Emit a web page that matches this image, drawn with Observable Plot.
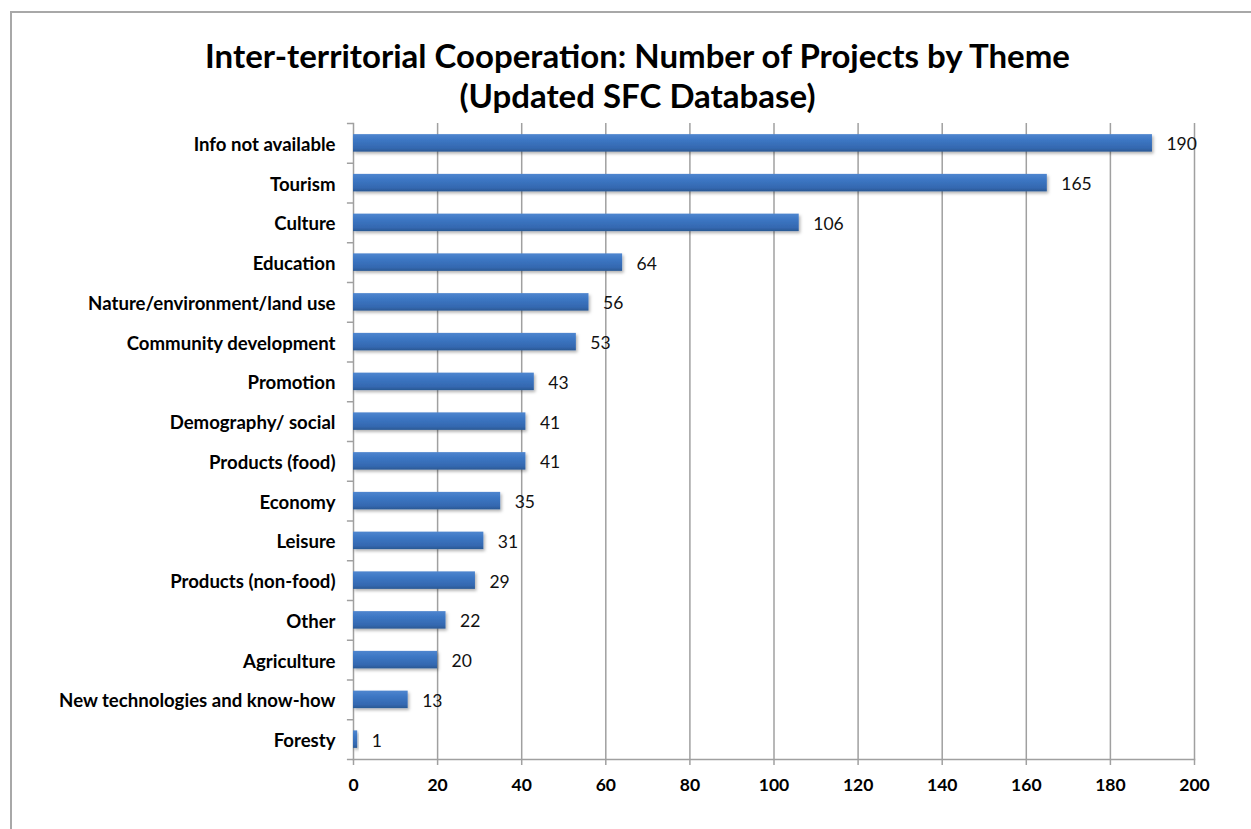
<!DOCTYPE html>
<html><head><meta charset="utf-8">
<script src="https://cdn.jsdelivr.net/npm/d3@7"></script>
<script src="https://cdn.jsdelivr.net/npm/@observablehq/plot@0.6"></script>
<style>
body{margin:0;background:#fff;font-family:Lato,"Open Sans",sans-serif;}
#wrap{position:relative;width:1251px;height:829px;overflow:hidden;}
#border{position:absolute;left:10px;top:11px;right:-10px;bottom:-10px;border-left:2px solid #a8a8a8;border-top:2px solid #a8a8a8;pointer-events:none;}
#title{position:relative;height:115px;box-sizing:border-box;padding-top:35px;padding-left:24px;text-align:center;font-weight:bold;font-size:33px;line-height:40px;color:#000;white-space:nowrap;overflow:visible;}
#chart svg{display:block}
</style></head><body>
<div id="wrap"><div id="border"></div>
<div id="title">Inter-territorial Cooperation: Number of Projects by Theme<br>(Updated SFC Database)</div>
<div id="chart"></div></div>
<script>
const themes = ["Info not available","Tourism","Culture","Education","Nature/environment/land use","Community development","Promotion","Demography/ social","Products (food)","Economy","Leisure","Products (non-food)","Other","Agriculture","New technologies and know-how","Foresty"];
const projects = [190,165,106,64,56,53,43,41,41,35,31,29,22,20,13,1];
const xTicks = [0,20,40,60,80,100,120,140,160,180,200];

const data = themes.map((t,i)=>({theme:t, n:projects[i]}));
const W=1251, H=714, mt=8, mb=70, ml=353, mr=57;
const step=(H-mt-mb)/themes.length;
const grid="#a0a0a0";
const chart = Plot.plot({
  width:W,height:H,marginTop:mt,marginBottom:mb,marginLeft:ml,marginRight:mr,
  style:{fontFamily:"Lato, 'Open Sans', sans-serif", fontSize:"16px", color:"#000", background:"transparent", overflow:"visible"},
  x:{domain:[0,200]},
  y:{domain:themes, paddingInner:0.56, paddingOuter:0.28, round:false},
  marks:[
    Plot.ruleX(xTicks.slice(1), {stroke:grid, strokeWidth:1.5}),
    Plot.frame({anchor:"left", stroke:grid, strokeWidth:1.5}),
    Plot.frame({anchor:"bottom", stroke:grid, strokeWidth:1.5}),
    Plot.ruleY(themes, {y:d=>d, dy:-step/2, x1:-1.45, x2:0, stroke:grid, strokeWidth:1.5}),
    Plot.ruleY(themes.slice(-1), {y:d=>d, dy:step/2, x1:-1.45, x2:0, stroke:grid, strokeWidth:1.5}),
    Plot.barX(data, {x:"n", y:"theme", fill:"url(#barGrad)"}),
    Plot.text(data, {x:"n", y:"theme", text:d=>String(d.n), textAnchor:"start", dx:14, dy:1.5, fontSize:17.5, fill:"#111"}),
    Plot.axisY({tickSize:0, tickPadding:18, fontWeight:"bold", fontSize:18.6, dy:1.5, label:null}),
    Plot.axisX({ticks:xTicks, tickSize:6, tickPadding:13, fontWeight:"bold", fontSize:17.5, stroke:grid, strokeWidth:1.5, label:null})
  ]
});
const svg = d3.select(chart);
svg.insert("defs",":first-child").html(
 `<linearGradient id="barGrad" x1="0" y1="0" x2="0" y2="1">
    <stop offset="0" stop-color="#4f86cf"/>
    <stop offset="0.35" stop-color="#3c76c3"/>
    <stop offset="0.8" stop-color="#3468b0"/>
    <stop offset="1" stop-color="#2a5893"/>
  </linearGradient>
  <filter id="shadow" x="-10%" y="-30%" width="130%" height="180%">
    <feDropShadow dx="1.5" dy="2" stdDeviation="1.5" flood-color="#000" flood-opacity="0.3"/>
  </filter>`);
svg.selectAll("rect").filter(function(){return this.getAttribute("fill")==="url(#barGrad)" || (this.parentNode && this.parentNode.getAttribute("fill")==="url(#barGrad)");}).attr("filter","url(#shadow)");
document.getElementById("chart").appendChild(chart);
</script>
</body></html>
